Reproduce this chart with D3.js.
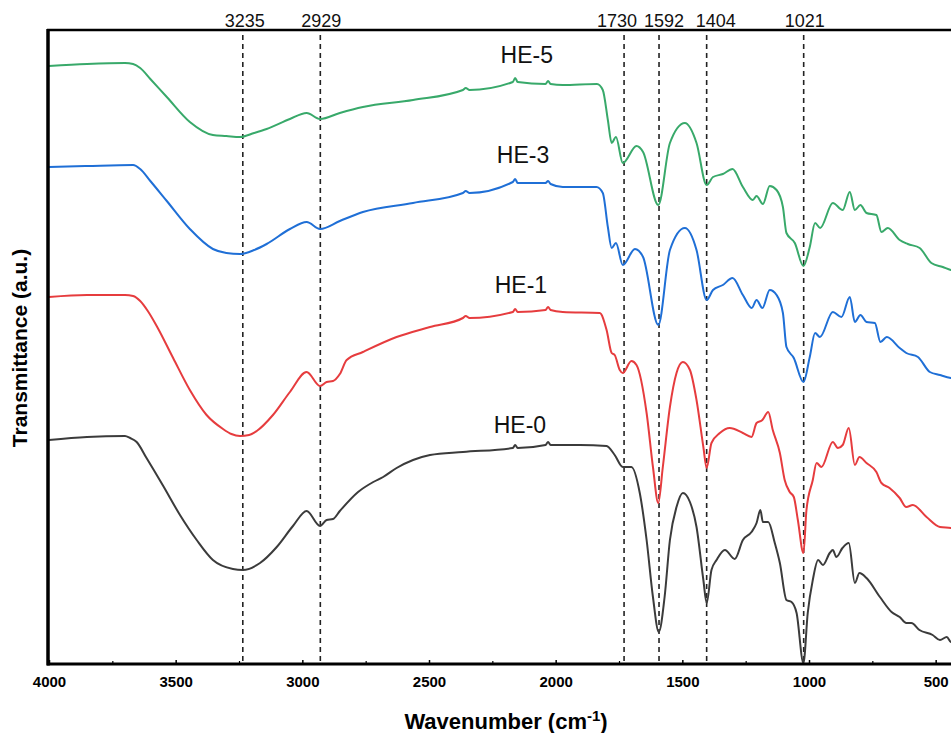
<!DOCTYPE html>
<html>
<head>
<meta charset="utf-8">
<title>FTIR spectra</title>
<script src="https://cdnjs.cloudflare.com/ajax/libs/d3/7.8.5/d3.min.js"></script>
<style>
body { margin: 0; padding: 0; background: #fff; overflow: hidden; }
text { font-family: Arial, "Liberation Sans", Helvetica, sans-serif; }
</style>
</head>
<body>
<svg id="chart" width="951" height="733"></svg>
<script>
// wavenumber (cm-1), transmittance (a.u., offset stacked)
var he5 = [
  [4000,598],[3850,600],[3700,601],[3668,600],[3640,596],[3600,585],[3535,567],[3444,542],
  [3353,529],[3300,528],[3246,527],[3190,531],[3141,535],[3049,545],[2983,551],[2930,545],
  [2852,551],[2761,557],[2563,564],[2366,574],[2355,576],[2340,574],[2169,582],[2160,586],
  [2150,582],[2040,580],[2030,583],[2020,580],[1972,579],[1837,580],[1814,574],[1794,544],
  [1779,521],[1762,527],[1735,501],[1681,518],[1655,512],[1595,459],[1549,521],[1490,541],
  [1444,521],[1404,479],[1379,487],[1340,490],[1302,495],[1261,477],[1222,464],[1207,468],
  [1182,460],[1155,478],[1128,474],[1103,457],[1089,431],[1056,421],[1022,398],[997,417],
  [976,441],[956,436],[906,461],[867,454],[839,472],[819,454],[797,459],[773,451],
  [734,449],[714,432],[689,436],[642,424],[610,420],[563,416],[517,401],[472,397],
  [440,394],[400,392]
];
var he3 = [
  [4000,497],[3850,498],[3668,499],[3640,495],[3600,483],[3535,463],[3444,435],[3353,415],
  [3300,411],[3246,410],[3190,414],[3141,420],[3049,435],[2983,442],[2930,435],[2852,443],
  [2761,452],[2563,461],[2366,471],[2355,473],[2340,471],[2169,482],[2160,485],[2150,481],
  [2040,481],[2030,483],[2020,480],[1972,477],[1839,477],[1814,471],[1794,437],[1779,416],
  [1762,421],[1735,399],[1687,415],[1655,407],[1595,339],[1549,414],[1490,436],[1444,414],
  [1404,364],[1379,374],[1340,379],[1302,386],[1261,369],[1226,356],[1207,364],[1184,356],
  [1155,374],[1128,369],[1103,351],[1089,317],[1060,306],[1022,282],[997,307],[976,331],
  [957,327],[906,352],[872,347],[839,367],[819,342],[797,349],[773,342],[740,341],
  [718,322],[693,327],[642,316],[616,311],[570,307],[523,292],[483,289],[440,286],
  [400,284]
];
var he1 = [
  [4000,367],[3850,369],[3700,369],[3668,368],[3640,363],[3610,353],[3575,338],[3510,306],
  [3444,274],[3378,249],[3313,235],[3280,230],[3246,228],[3210,229],[3180,233],[3116,249],
  [3049,272],[2983,292],[2930,278],[2904,282],[2879,283],[2852,290],[2825,304],[2761,312],
  [2628,327],[2496,337],[2366,346],[2355,348],[2340,346],[2169,352],[2160,355],[2150,352],
  [2040,354],[2030,357],[2020,354],[1972,352],[1826,351],[1799,334],[1779,311],[1767,309],
  [1747,294],[1735,291],[1701,303],[1681,299],[1641,251],[1616,197],[1595,161],[1577,197],
  [1549,257],[1523,291],[1498,302],[1470,294],[1444,264],[1417,217],[1404,196],[1385,221],
  [1352,231],[1313,236],[1261,231],[1227,227],[1207,241],[1184,244],[1161,252],[1143,234],
  [1115,211],[1096,184],[1076,172],[1060,167],[1044,144],[1022,111],[1010,154],[985,184],
  [970,201],[951,197],[906,222],[886,216],[867,219],[843,236],[819,199],[801,207],
  [773,201],[734,192],[714,181],[682,176],[642,166],[616,157],[590,159],[536,147],
  [483,137],[440,136],[400,134]
];
var he0 = [
  [4000,224],[3850,227],[3700,228],[3680,226],[3654,222],[3615,206],[3549,178],[3483,149],
  [3417,124],[3353,104],[3274,95],[3235,94],[3167,101],[3101,117],[3037,138],[2983,153],
  [2930,138],[2904,144],[2879,145],[2852,153],[2780,172],[2720,182],[2681,187],[2628,196],
  [2563,204],[2496,209],[2366,212],[2169,216],[2160,219],[2150,216],[2040,219],[2030,222],
  [2020,219],[1904,219],[1799,218],[1767,209],[1735,197],[1701,197],[1668,171],[1641,124],
  [1616,67],[1593,32],[1570,67],[1549,124],[1523,157],[1498,171],[1470,162],[1444,137],
  [1417,84],[1404,61],[1385,94],[1365,104],[1332,114],[1293,105],[1261,124],[1227,132],
  [1207,141],[1192,154],[1182,142],[1161,142],[1135,121],[1115,101],[1089,64],[1069,62],
  [1049,51],[1022,1],[1005,51],[985,84],[964,104],[945,99],[918,111],[906,114],
  [892,107],[868,116],[843,121],[819,81],[801,91],[773,86],[720,67],[674,52],
  [642,47],[616,41],[596,41],[564,34],[512,29],[483,24],[456,27],[440,22],[400,21]
];

var seriesNames = ["HE-5", "HE-3", "HE-1", "HE-0"];
var seriesData = [he5, he3, he1, he0];
var seriesColors = ["#38a96a", "#1f6fd6", "#e63c3e", "#3b3b3b"];
// where each name sits: [wavenumber, a.u.]
var nameAnchors = [[2114, 601], [2129, 501], [2137, 371], [2141, 231]];

var peakPositions = [3235, 2929, 1730, 1592, 1404, 1021];
var peakLabelOffsets = [2, 1, -7, 5, 9, 1];

var xTicks = [4000, 3500, 3000, 2500, 2000, 1500, 1000, 500];
var xMinorTicks = [3750, 3250, 2750, 2250, 1750, 1250, 750];

var svg = d3.select("#chart");

var x = d3.scaleLinear().domain([4000, 400]).range([49, 961]);
var y = d3.scaleLinear().domain([0, 634]).range([664, 30]);

// dashed peak markers
svg.selectAll("line.peak")
    .data(peakPositions)
  .enter().append("line")
    .attr("class", "peak")
    .attr("x1", function(d){ return x(d); })
    .attr("x2", function(d){ return x(d); })
    .attr("y1", 35)
    .attr("y2", 664)
    .attr("stroke", "#222")
    .attr("stroke-width", 1.6)
    .attr("stroke-dasharray", "5,4");

svg.selectAll("text.peak")
    .data(peakPositions)
  .enter().append("text")
    .attr("class", "peak")
    .attr("x", function(d, i){ return x(d) + peakLabelOffsets[i]; })
    .attr("y", 27)
    .attr("text-anchor", "middle")
    .style("font-size", "18px")
    .attr("fill", "#111")
    .text(function(d){ return d; });

// spectra
var line = d3.line()
    .x(function(d){ return x(d[0]); })
    .y(function(d){ return y(d[1]); })
    .curve(d3.curveMonotoneX);

svg.selectAll("path.spectrum")
    .data(seriesData)
  .enter().append("path")
    .attr("class", "spectrum")
    .attr("d", line)
    .attr("fill", "none")
    .attr("stroke", function(d, i){ return seriesColors[i]; })
    .attr("stroke-width", 2)
    .attr("stroke-linejoin", "round");

svg.selectAll("text.name")
    .data(seriesNames)
  .enter().append("text")
    .attr("class", "name")
    .attr("x", function(d, i){ return x(nameAnchors[i][0]); })
    .attr("y", function(d, i){ return y(nameAnchors[i][1]); })
    .attr("text-anchor", "middle")
    .style("font-size", "23px")
    .attr("fill", "#111")
    .text(function(d){ return d; });

// axes
var xAxis = d3.axisBottom(x)
    .tickValues(xTicks)
    .tickSize(-4)
    .tickPadding(12)
    .tickFormat(d3.format("d"));

var gx = svg.append("g")
    .attr("transform", "translate(0,664)")
    .call(xAxis);
gx.select(".domain").remove();
gx.selectAll("line").attr("stroke", "#000").attr("stroke-width", 1.5);
gx.selectAll("text")
    .style("font-size", "15px")
    .style("font-weight", "bold")
    .attr("fill", "#000");

svg.append("g")
    .attr("transform", "translate(0,664)")
    .call(d3.axisBottom(x).tickValues(xMinorTicks).tickSize(-3).tickFormat(""))
    .call(function(g){ g.select(".domain").remove(); })
    .selectAll("line").attr("stroke", "#000").attr("stroke-width", 1.2);

// frame
svg.append("line")
    .attr("x1", 47).attr("x2", 951).attr("y1", 664).attr("y2", 664)
    .attr("stroke", "#000").attr("stroke-width", 3);
svg.append("line")
    .attr("x1", 47).attr("x2", 951).attr("y1", 30).attr("y2", 30)
    .attr("stroke", "#000").attr("stroke-width", 2.5);
svg.append("line")
    .attr("x1", 48).attr("x2", 48).attr("y1", 29).attr("y2", 665.5)
    .attr("stroke", "#000").attr("stroke-width", 3.5);

// titles
var xt = svg.append("text")
    .attr("x", 506)
    .attr("y", 729)
    .attr("text-anchor", "middle")
    .style("font-size", "22px")
    .style("font-weight", "bold")
    .attr("fill", "#000");
xt.append("tspan").text("Wavenumber (cm");
xt.append("tspan").attr("dy", -8).style("font-size", "15px").text("-1");
xt.append("tspan").attr("dy", 8).text(")");

svg.append("text")
    .attr("transform", "translate(27,348) rotate(-90)")
    .attr("text-anchor", "middle")
    .style("font-size", "21px")
    .style("font-weight", "bold")
    .attr("fill", "#000")
    .text("Transmittance (a.u.)");
</script>
</body>
</html>
